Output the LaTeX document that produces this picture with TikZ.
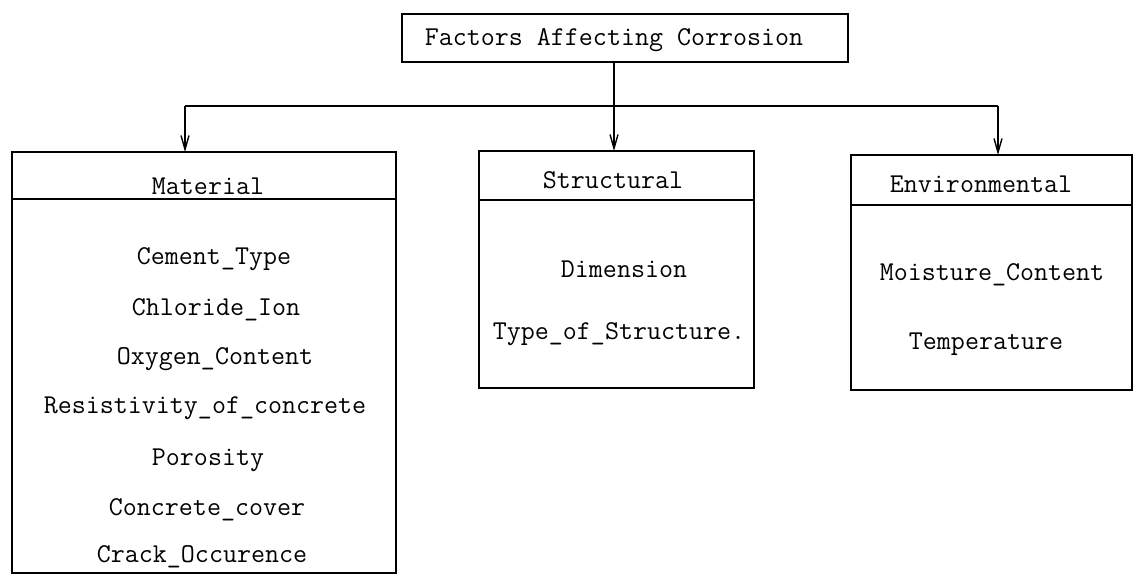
\documentclass[tikz,border=0pt]{standalone}
\usepackage{fontspec}
\usetikzlibrary{arrows.meta}
\begin{document}
\begin{tikzpicture}[x=0.5pt,y=-0.5pt,
  every node/.style={inner sep=0pt, outer sep=0pt},
  lbl/.style={font=\ttfamily\fontsize{13.6pt}{15pt}\selectfont, text height=1.5ex, text depth=0.25ex, yshift=-1pt},
  boxnode/.style={draw, line width=0.7pt, anchor=north west},
  conn/.style={line width=0.7pt},
  arr/.style={line width=0.7pt, -{Straight Barb[length=7pt,width=4pt]}}
]
\useasboundingbox (0,0) rectangle (1133,574);

% top box
\node[boxnode, minimum width=223pt, minimum height=24pt] (top) at (402,14) {};
\node[lbl] (toptext) at (614,38) {Factors Affecting Corrosion};

% Material box
\node[boxnode, minimum width=192pt, minimum height=210.5pt] (mat) at (12,152) {};
\draw[conn] ([yshift=-23.5pt]mat.north west) -- ([yshift=-23.5pt]mat.north east);
\node[lbl] (math) at (208,187) {Material};
\node[lbl] (m1) at (214,257) {Cement\_Type};
\node[lbl] (m2) at (216,308) {Chloride\_Ion};
\node[lbl] (m3) at (215,357) {Oxygen\_Content};
\node[lbl] (m4) at (205,406) {Resistivity\_of\_concrete};
\node[lbl] (m5) at (208,458) {Porosity};
\node[lbl] (m6) at (207,508) {Concrete\_cover};
\node[lbl] (m7) at (202,555) {Crack\_Occurence};

% Structural box
\node[boxnode, minimum width=137.5pt, minimum height=118.5pt] (str) at (479,151) {};
\draw[conn] ([yshift=-24.5pt]str.north west) -- ([yshift=-24.5pt]str.north east);
\node[lbl] (strh) at (613,181) {Structural};
\node[lbl] (s1) at (624,270) {Dimension};
\node[lbl] (s2) at (619,332) {Type\_of\_Structure.};

% Environmental box
\node[boxnode, minimum width=140.5pt, minimum height=117.5pt] (env) at (851,155) {};
\draw[conn] ([yshift=-25pt]env.north west) -- ([yshift=-25pt]env.north east);
\node[lbl] (envh) at (981,185) {Environmental};
\node[lbl] (e1) at (992,273) {Moisture\_Content};
\node[lbl] (e2) at (986,342) {Temperature};

% connectors
\coordinate (hl) at (185,106);
\coordinate (hm) at (614,106);
\coordinate (hr) at (998,106);
\draw[conn] (top.south -| hm) -- (hm);
\draw[conn] (hl) -- (hr);
\draw[arr] (hm) -- (hm |- str.north);
\draw[arr] (hl) -- (hl |- mat.north);
\draw[arr] (hr) -- (hr |- env.north);
\end{tikzpicture}
\end{document}
